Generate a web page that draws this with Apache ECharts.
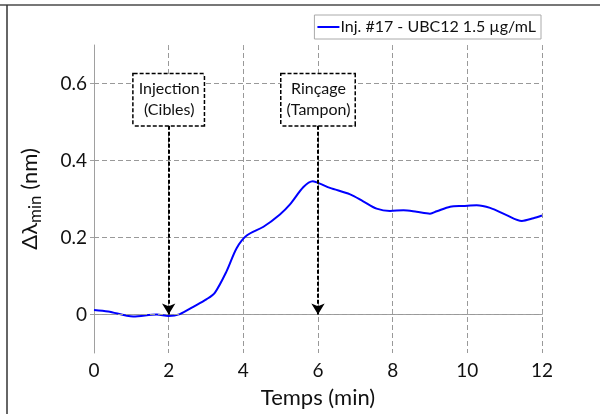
<!DOCTYPE html>
<html>
<head>
<meta charset="utf-8">
<script src="https://cdn.jsdelivr.net/npm/echarts@6/dist/echarts.min.js"></script>
<style>
  html, body { margin: 0; padding: 0; background: #fff; }
  #chart { width: 600px; height: 414px; }
</style>
</head>
<body>
<div id="chart"></div>
<script>
// courbe
const temps = [0, 0.38, 1.05, 1.68, 2.0, 2.3, 2.66, 3.02, 3.24, 3.55, 3.82, 4.09, 4.54, 4.98, 5.25, 5.61, 5.86, 6.05, 6.32, 6.86, 7.21, 7.57, 7.93, 8.29, 8.64, 9.0, 9.18, 9.54, 9.89, 10.25, 10.61, 11.05, 11.46, 11.77, 12.0]
const deltaLambda = [0.012, 0.008, -0.005, 0, -0.004, 0.001, 0.02, 0.04, 0.057, 0.112, 0.172, 0.205, 0.228, 0.26, 0.286, 0.331, 0.346, 0.34, 0.329, 0.312, 0.294, 0.275, 0.269, 0.271, 0.267, 0.262, 0.268, 0.28, 0.282, 0.284, 0.277, 0.258, 0.243, 0.25, 0.257]
const serieName = 'Inj. #17 - UBC12 1.5 µg/mL'

const yTicks = [0, 0.2, 0.4, 0.6]
// annotations : position x, texte, haut de la flèche (bas de la boîte), centre de la boîte
const annotX = [2, 6]
const annotText = ['Injection\n(Cibles)', 'Rinçage\n(Tampon)']
const arrowTop = 0.49
const boxCenter = 0.558

const font = 'Lato'

const chart = echarts.init(document.getElementById('chart'))

const option = {
  animation: false,
  textStyle: { fontFamily: font },
  grid: { left: 94, right: 58, top: 45, bottom: 58 },
  legend: {
    data: [serieName],
    right: 59,
    top: 15,
    orient: 'vertical',
    borderColor: '#aaa',
    borderWidth: 1,
    borderRadius: 0,
    padding: [4, 5, 4, 3],
    itemWidth: 22,
    itemHeight: 2,
    icon: 'rect',
    textStyle: { fontFamily: font, fontSize: 16, color: '#111', padding: [0, 0, 0, -4] }
  },
  xAxis: [
    {
      type: 'value',
      min: 0,
      max: 12,
      interval: 2,
      name: 'Temps (min)',
      nameLocation: 'middle',
      nameGap: 34,
      nameTextStyle: { fontFamily: font, fontSize: 22, color: '#111' },
      axisLine: { show: true, lineStyle: { color: '#a0a0a0', width: 1 } },
      axisTick: { show: true, inside: true, length: 4, lineStyle: { color: '#a0a0a0' } },
      axisLabel: { fontFamily: font, fontSize: 19, color: '#111', margin: 8 },
      splitLine: { show: true, lineStyle: { color: '#999', type: [5, 3], width: 1 } }
    },
    {
      type: 'value',
      position: 'top',
      min: 0,
      max: 12,
      interval: 2,
      axisLine: { show: false },
      axisTick: { show: true, inside: true, length: 3, lineStyle: { color: '#a0a0a0' } },
      axisLabel: { show: false },
      splitLine: { show: false }
    }
  ],
  yAxis: {
    type: 'value',
    min: -0.1,
    max: 0.7,
    interval: 0.1,
    name: '{a|Δλ}{b|min}{a| (nm)}',
    nameLocation: 'middle',
    nameRotate: 90,
    nameGap: 48,
    nameTextStyle: {
      rich: {
        a: { fontFamily: font, fontSize: 22, color: '#111', lineHeight: 32, verticalAlign: 'middle' },
        b: { fontFamily: font, fontSize: 17, color: '#111', lineHeight: 32, padding: [11, 0, 0, 0] }
      }
    },
    axisLine: { show: true, lineStyle: { color: '#a0a0a0', width: 1 } },
    axisTick: { show: true, length: 4, customValues: yTicks, lineStyle: { color: '#a0a0a0' } },
    axisLabel: {
      fontFamily: font,
      fontSize: 19,
      color: '#111',
      margin: 7,
      customValues: yTicks,
      formatter: v => (Math.abs(v) < 1e-9 ? '0' : String(+v.toFixed(1)))
    },
    splitLine: { show: false }
  },
  series: [
    {
      // lignes de grille horizontales
      type: 'line',
      data: [],
      silent: true,
      z: 0,
      markLine: {
        silent: true,
        symbol: 'none',
        animation: false,
        label: { show: false },
        lineStyle: { color: '#999', type: [5, 3], width: 1 },
        data: yTicks.map(v => ({ yAxis: v }))
      }
    },
    {
      name: serieName,
      type: 'line',
      data: temps.map((t, i) => [t, deltaLambda[i]]),
      smooth: 0.3,
      showSymbol: false,
      color: '#0000ff',
      lineStyle: { width: 2, color: '#0000ff' },
      z: 3,
      markLine: {
        silent: true,
        animation: false,
        symbol: ['none', 'arrow'],
        symbolSize: [10, 11],
        label: { show: false },
        lineStyle: { color: '#000', type: [4, 2], width: 2 },
        data: annotX.map(x => [{ coord: [x, arrowTop] }, { coord: [x, 0] }])
      },
      markPoint: {
        silent: true,
        animation: false,
        symbol: 'rect',
        symbolSize: 1,
        itemStyle: { color: 'rgba(0,0,0,0)' },
        label: {
          show: true,
          position: 'inside',
          formatter: p => p.name,
          fontFamily: font,
          fontSize: 16,
          lineHeight: 21,
          color: '#111',
          backgroundColor: '#fff',
          borderColor: '#000',
          borderWidth: 1.5,
          borderType: [4, 2],
          padding: [5, 4, 4, 5]
        },
        data: annotX.map((x, i) => ({ name: annotText[i], coord: [x, boxCenter] }))
      }
    }
  ],
  graphic: [
    { type: 'line', shape: { x1: 0, y1: 5, x2: 600, y2: 5 }, style: { stroke: '#777', lineWidth: 2 } },
    { type: 'line', shape: { x1: 7, y1: 5, x2: 7, y2: 414 }, style: { stroke: '#333', lineWidth: 1.5 } }
  ]
}

chart.setOption(option)
</script>
</body>
</html>
